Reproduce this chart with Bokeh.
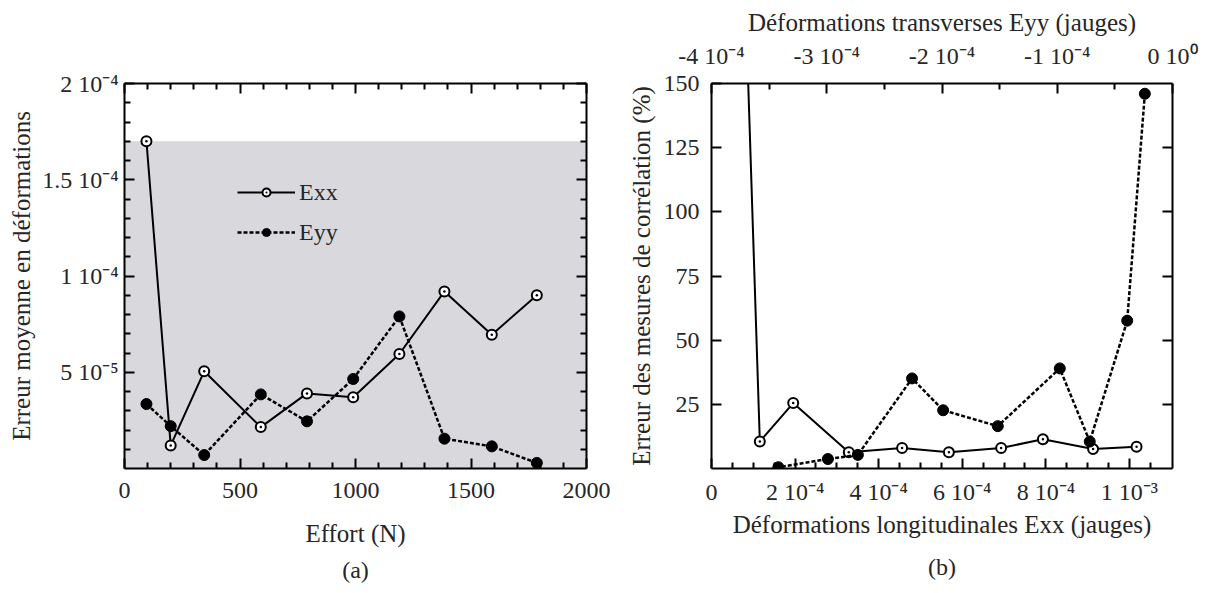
from bokeh.plotting import figure
from bokeh.models import (Range1d, LinearAxis, FixedTicker, BoxAnnotation,
                          Legend, LegendItem, Title)
from bokeh.layouts import row
from bokeh.embed import file_html
from bokeh.resources import INLINE

# ---------------- data: panel (a) ----------------
force_n = [95, 200, 345, 590, 790, 990, 1190, 1385, 1590, 1785]
exx_err = [1.70e-4, 1.2e-5, 5.05e-5, 2.15e-5, 3.9e-5, 3.7e-5, 5.95e-5, 9.2e-5, 6.95e-5, 9.0e-5]
eyy_err = [3.35e-5, 2.2e-5, 7.0e-6, 3.85e-5, 2.45e-5, 4.65e-5, 7.9e-5, 1.55e-5, 1.15e-5, 2.9e-6]

a_xticks = [0, 500, 1000, 1500, 2000]
a_xlabels = ["0", "500", "1000", "1500", "2000"]
a_xminor = [100, 200, 300, 400, 600, 700, 800, 900, 1100, 1200, 1300, 1400,
            1600, 1700, 1800, 1900]
a_yticks = [5e-5, 1e-4, 1.5e-4, 2e-4]
a_ylabels = ["5 10\u207b\u2075", "1 10\u207b\u2074", "1.5 10\u207b\u2074", "2 10\u207b\u2074"]
a_yminor = [1e-5, 2e-5, 3e-5, 4e-5, 6e-5, 7e-5, 8e-5, 9e-5, 1.1e-4, 1.2e-4,
            1.3e-4, 1.4e-4, 1.6e-4, 1.7e-4, 1.8e-4, 1.9e-4]

# ---------------- data: panel (b) ----------------
exx_strain = [5.2e-5, 1.156e-4, 1.955e-4, 3.285e-4, 4.56e-4, 5.68e-4, 6.93e-4, 7.93e-4, 9.13e-4, 1.017e-3]
exx_rel = [330, 10.5, 25.5, 6.3, 8.0, 6.3, 8.0, 11.4, 7.6, 8.5]
eyy_strain = [-0.24e-4, -0.393e-4, -0.718e-4, -0.978e-4, -1.516e-4, -1.99e-4, -2.26e-4, -2.73e-4, -2.99e-4, -3.42e-4]
eyy_rel = [146, 57.6, 10.5, 39.0, 16.5, 22.7, 35.1, 5.3, 3.7, 0.5]

b_xticks = [0, 2e-4, 4e-4, 6e-4, 8e-4, 1e-3]
b_xlabels = ["0", "2 10\u207b\u2074", "4 10\u207b\u2074", "6 10\u207b\u2074", "8 10\u207b\u2074", "1 10\u207b\u00b3"]
b_xminor = [5e-5, 1e-4, 1.5e-4, 2.5e-4, 3e-4, 3.5e-4, 4.5e-4, 5e-4, 5.5e-4,
            6.5e-4, 7e-4, 7.5e-4, 8.5e-4, 9e-4, 9.5e-4, 1.05e-3]
b_topticks = [-4e-4, -3e-4, -2e-4, -1e-4, 0]
b_toplabels = ["-4 10\u207b\u2074", "-3 10\u207b\u2074", "-2 10\u207b\u2074", "-1 10\u207b\u2074", "0 10\u2070"]
b_topminor = [-3.5e-4, -2.5e-4, -1.5e-4, -0.5e-4]
b_yticks = [25, 50, 75, 100, 125, 150]
b_ylabels = ["25", "50", "75", "100", "125", "150"]

FONT = "Liberation Serif"
TXT = "#262626"
TICK_FS = "24px"
TITLE_FS = "25px"
FIG_H = 590


def style_axis(ax, ticks, minor, labels=None, major_len=10, minor_len=6, standoff=8):
    ax.ticker = FixedTicker(ticks=ticks, minor_ticks=minor)
    ax.axis_line_width = 2
    ax.axis_line_color = "black"
    ax.major_tick_line_width = 2
    ax.minor_tick_line_width = 2
    ax.major_tick_line_color = "black"
    ax.minor_tick_line_color = "black"
    ax.major_tick_in = major_len
    ax.major_tick_out = 0
    ax.minor_tick_in = minor_len
    ax.minor_tick_out = 0
    if labels:
        ax.major_label_overrides = dict(zip(ticks, labels))
        ax.major_label_text_font = FONT
        ax.major_label_text_font_size = TICK_FS
        ax.major_label_text_color = TXT
        ax.major_label_standoff = standoff
    else:
        ax.major_label_text_color = None
    ax.axis_label_text_font = FONT
    ax.axis_label_text_font_size = TITLE_FS
    ax.axis_label_text_color = TXT
    ax.axis_label_text_font_style = "normal"


def base_fig(width, xr, yr, bl, br):
    p = figure(width=width, height=FIG_H, x_range=xr, y_range=yr,
               output_backend="svg", toolbar_location=None,
               min_border_left=bl, min_border_right=br,
               min_border_top=83, min_border_bottom=FIG_H - 473)
    p.xgrid.visible = False
    p.ygrid.visible = False
    p.outline_line_color = None
    p.background_fill_color = "white"
    p.border_fill_color = "white"
    return p


def bottom_title(p, text, standoff, offset):
    t = Title(text=text, align="center", text_font=FONT, text_font_size=TICK_FS,
              text_color=TXT, text_font_style="normal", standoff=standoff,
              offset=offset)
    p.add_layout(t, "below")


# ================= panel (a) =================
p1 = base_fig(624, Range1d(0, 2000), Range1d(0, 2e-4), 124, 38)
p1.add_layout(BoxAnnotation(top=max(exx_err), fill_color="#d9d9dd", fill_alpha=1,
                            line_color=None, level="underlay"))

style_axis(p1.xaxis[0], a_xticks, a_xminor, a_xlabels, standoff=14)
p1.xaxis[0].axis_label = "Effort (N)"
p1.xaxis[0].axis_label_standoff = 19
style_axis(p1.yaxis[0], a_yticks, a_yminor, a_ylabels, standoff=6)
p1.yaxis[0].axis_label = "Erreur moyenne en déformations"
p1.yaxis[0].axis_label_standoff = 4
top1 = LinearAxis()
style_axis(top1, a_xticks, a_xminor)
p1.add_layout(top1, "above")
right1 = LinearAxis()
style_axis(right1, a_yticks, a_yminor)
p1.add_layout(right1, "right")

l_exx = p1.line(force_n, exx_err, line_color="black", line_width=2)
m_exx = p1.scatter(force_n, exx_err, marker="circle_dot", size=10, line_color="black",
                   line_width=2, fill_color="white")
l_eyy = p1.line(force_n, eyy_err, line_color="black", line_width=2.5, line_dash="4 2")
m_eyy = p1.scatter(force_n, eyy_err, marker="circle", size=11, line_color="black",
                   fill_color="black")

legend = Legend(items=[LegendItem(label="Exx", renderers=[l_exx, m_exx]),
                       LegendItem(label="Eyy", renderers=[l_eyy, m_eyy])],
                location=(113, 222), background_fill_alpha=0, border_line_color=None,
                padding=0, margin=0, spacing=12, glyph_width=58, glyph_height=20,
                label_height=28, label_standoff=4, label_text_font=FONT,
                label_text_font_size=TICK_FS, label_text_color=TXT)
p1.add_layout(legend)
bottom_title(p1, "(a)", 10, -3)

# ================= panel (b) =================
p2 = base_fig(586, Range1d(0, 1.103e-3), Range1d(0, 150), 87, 38)
p2.extra_x_ranges = {"eyy": Range1d(-4e-4, 0)}

style_axis(p2.xaxis[0], b_xticks, b_xminor, b_xlabels, standoff=10)
p2.xaxis[0].axis_label = "Déformations longitudinales Exx (jauges)"
p2.xaxis[0].axis_label_standoff = 3
style_axis(p2.yaxis[0], b_yticks, [], b_ylabels, standoff=12)
p2.yaxis[0].axis_label = "Erreur des mesures de corrélation (%)"
p2.yaxis[0].axis_label_standoff = 6
top2 = LinearAxis(x_range_name="eyy")
style_axis(top2, b_topticks, b_topminor, b_toplabels, standoff=15)
top2.axis_label = "Déformations transverses Eyy (jauges)"
top2.axis_label_standoff = 4
p2.add_layout(top2, "above")
right2 = LinearAxis()
style_axis(right2, b_yticks[:-1], [])
p2.add_layout(right2, "right")

p2.line(exx_strain, exx_rel, line_color="black", line_width=2)
p2.scatter(exx_strain, exx_rel, marker="circle_dot", size=10, line_color="black",
           line_width=2, fill_color="white")
p2.line(eyy_strain, eyy_rel, line_color="black", line_width=2.5, line_dash="4 2",
        x_range_name="eyy")
p2.scatter(eyy_strain, eyy_rel, marker="circle", size=11, line_color="black",
           fill_color="black", x_range_name="eyy")
bottom_title(p2, "(b)", 22, 22)

layout = row(p1, p2)
open("out.html", "w").write(file_html(layout, INLINE))
